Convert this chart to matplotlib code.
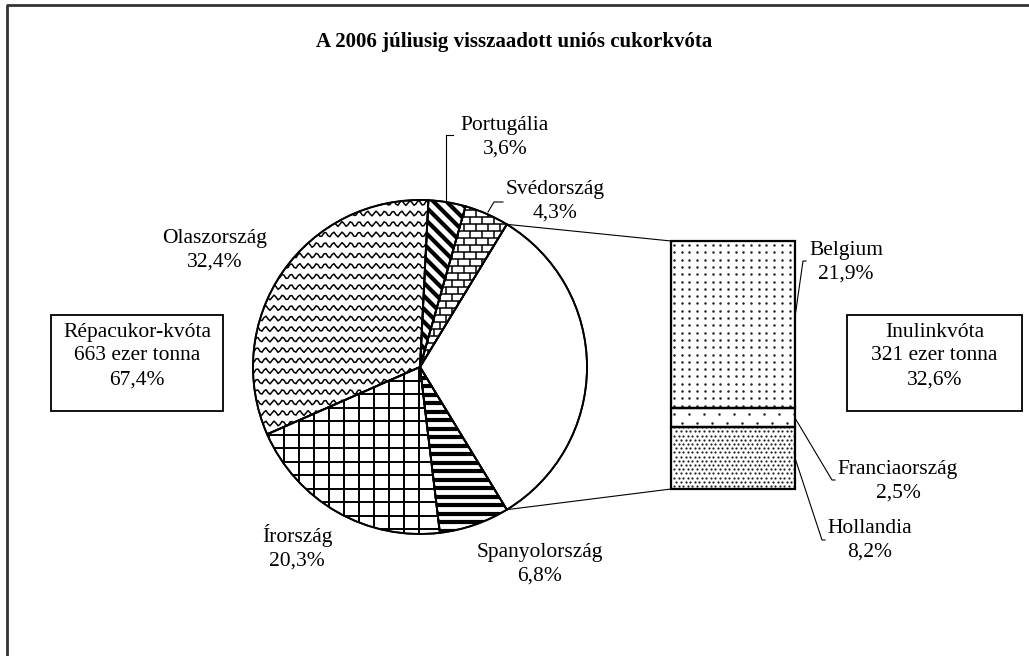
import numpy as np
import matplotlib
matplotlib.use("Agg")
import matplotlib.pyplot as plt
from matplotlib.collections import LineCollection
from matplotlib.patches import Wedge, Rectangle

plt.rcParams["font.family"] = ["Liberation Serif", "DejaVu Serif"]

W, H = 1029, 656

title = "A 2006 júliusig visszaadott uniós cukorkvóta"
pie_labels = ["Inulin", "Svédország", "Portugália", "Olaszország", "Írország", "Spanyolország"]
pie_values = [32.6, 4.3, 3.6, 32.4, 20.3, 6.8]
bar_labels = ["Hollandia", "Franciaország", "Belgium"]
bar_values = [8.2, 2.5, 21.9]
beet_box = ["Répacukor-kvóta", "663 ezer tonna", "67,4%"]
inulin_box = ["Inulinkvóta", "321 ezer tonna", "32,6%"]


def pct(v):
    return f"{v:.1f}".replace(".", ",") + "%"


def P(x, y):
    # pixel position measured from the top-left corner
    return x, H - y


fig = plt.figure(figsize=(W / 100, H / 100), dpi=100)
ax = fig.add_axes([0, 0, 1, 1])

cx, cy = P(420, 367)
R = 167
start = -pie_values[0] / 100 * 180
wedges, _ = ax.pie(pie_values, startangle=start, counterclock=True,
                   center=(cx, cy), radius=R, frame=True,
                   wedgeprops=dict(facecolor="white", edgecolor="black", linewidth=1.2))
ax.set_xlim(0, W)
ax.set_ylim(0, H)
ax.axis("off")
wd = dict(zip(pie_labels, wedges))


def add_lines(segs, clip, lw, color="black"):
    lc = LineCollection(segs, colors=color, linewidths=lw, zorder=3, capstyle="butt")
    ax.add_collection(lc)
    lc.set_clip_path(clip)


x0, x1 = cx - R - 5, cx + R + 5
y0, y1 = cy - R - 5, cy + R + 5

# Portugália: thick diagonal stripes
segs = [[(x0, c - x0), (x1, c - x1)] for c in np.arange(x0 + y0 - 400, x1 + y1 + 400, 13)]
add_lines(segs, wd["Portugália"], 3.0)

# Spanyolország: thick horizontal stripes
segs = [[(x0, y), (x1, y)] for y in np.arange(y0, y1, 8.5)]
add_lines(segs, wd["Spanyolország"], 3.0)

# Írország: square grid
segs = [[(x0, y), (x1, y)] for y in np.arange(cy, y0, -13.5)]
segs += [[(x, y0), (x, y1)] for x in np.arange(cx - 1, x0, -15)]
add_lines(segs, wd["Írország"], 1.4)

# Svédország: brick
segs = []
for i, y in enumerate(np.arange(y0, y1, 7)):
    segs.append([(x0, y), (x1, y)])
    off = 0 if i % 2 == 0 else 6
    for x in np.arange(x0 + off, x1, 12):
        segs.append([(x, y), (x, y + 7)])
add_lines(segs, wd["Svédország"], 1.1)

# Olaszország: zigzag waves
xs = np.arange(x0, x1, 2.0)
segs = []
for y in np.arange(y0, y1, 10.5):
    segs.append(np.column_stack([xs, y + 2.4 * np.sin(xs / 8.5 * 2 * np.pi)]))
add_lines(segs, wd["Olaszország"], 1.1)

for w in wedges:
    ax.add_patch(Wedge(w.center, w.r, w.theta1, w.theta2, fill=False,
                       edgecolor="black", linewidth=1.4, zorder=4))

# bar of the "other" slice
bl, br, bt, bb = 671, 795, 241, 489
bx = fig.add_axes([bl / W, (H - bb) / H, (br - bl) / W, (bb - bt) / H])
bottoms = np.concatenate([[0], np.cumsum(bar_values)[:-1]])
bars = bx.bar(0.5, bar_values, bottom=bottoms, width=1, color="white",
              edgecolor="black", linewidth=1.5, zorder=2)
bx.set_xlim(0, 1)
bx.set_ylim(0, sum(bar_values))
bx.axis("off")
bx.patch.set_alpha(0)

dot_specs = {"Belgium": (7.7, 7.3, 0, 1.8), "Franciaország": (15, 9, 7.5, 1.8),
             "Hollandia": (4.6, 4.2, 2.3, 1.6)}
for lab, bar in zip(bar_labels, bars):
    dxs, dys, shift, ms = dot_specs[lab]
    px, py = [], []
    for i, y in enumerate(np.arange(H - bb + 3, H - bt, dys)):
        for x in np.arange(bl + 3 + (shift if i % 2 else 0), br, dxs):
            px.append(x)
            py.append(y)
    ln, = bx.plot(px, py, "o", ms=ms, color="#222222", mew=0,
                  transform=ax.transData, zorder=3)
    ln.set_clip_path(bar)

for bar in bars:
    bx.add_patch(Rectangle(bar.get_xy(), bar.get_width(), bar.get_height(),
                           fill=False, edgecolor="black", linewidth=1.6, zorder=4,
                           clip_on=False))

# connector lines
th = np.deg2rad(pie_values[0] / 100 * 180)
for sgn, by in ((1, bt), (-1, bb)):
    ax.plot([cx + R * np.cos(th), bl], [cy + sgn * R * np.sin(th), H - by],
            color="black", lw=0.8)

fs = 15.5
ls = 1.35
ax.text(*P(514, 42), title, ha="center", va="center", fontsize=15, fontweight="bold")

pie_pos = {"Portugália": (505, 137), "Svédország": (555, 201), "Olaszország": (215, 250),
           "Írország": (297, 547), "Spanyolország": (540, 564)}
for lab, val in zip(pie_labels, pie_values):
    if lab in pie_pos:
        ax.text(*P(*pie_pos[lab]), f"{lab}\n{pct(val)}", ha="center", va="center",
                fontsize=fs, linespacing=ls)

bar_pos = {"Belgium": (846, 262), "Franciaország": (898, 481), "Hollandia": (870, 540)}
for lab, val in zip(bar_labels, bar_values):
    ax.text(*P(*bar_pos[lab]), f"{lab}\n{pct(val)}", ha="center", va="center",
            fontsize=fs, linespacing=ls)

# leader lines
leaders = [[(446, 200), (446, 135), (453, 135)],
           [(488, 212), (494, 202), (503, 202)],
           [(795, 317), (803, 261), (806, 261)],
           [(795, 418), (832, 480), (835, 480)],
           [(795, 458), (822, 540), (825, 540)]]
for pts in leaders:
    xy = [P(*p) for p in pts]
    ax.plot([p[0] for p in xy], [p[1] for p in xy], color="black", lw=0.8)

# summary boxes
for lines, (l, r) in ((beet_box, (51, 223)), (inulin_box, (847, 1022))):
    ax.add_patch(Rectangle(P(l, 411), r - l, 411 - 315, fill=False,
                           edgecolor="black", linewidth=1.3))
    ax.text(*P((l + r) / 2, 356), "\n".join(lines), ha="center", va="center",
            fontsize=fs, linespacing=ls)

# outer frame (left and top edges)
ax.plot([7, 7, W], [0, H - 5, H - 5], color="#333333", lw=2, clip_on=False)

fig.savefig("out.png", dpi=100)
